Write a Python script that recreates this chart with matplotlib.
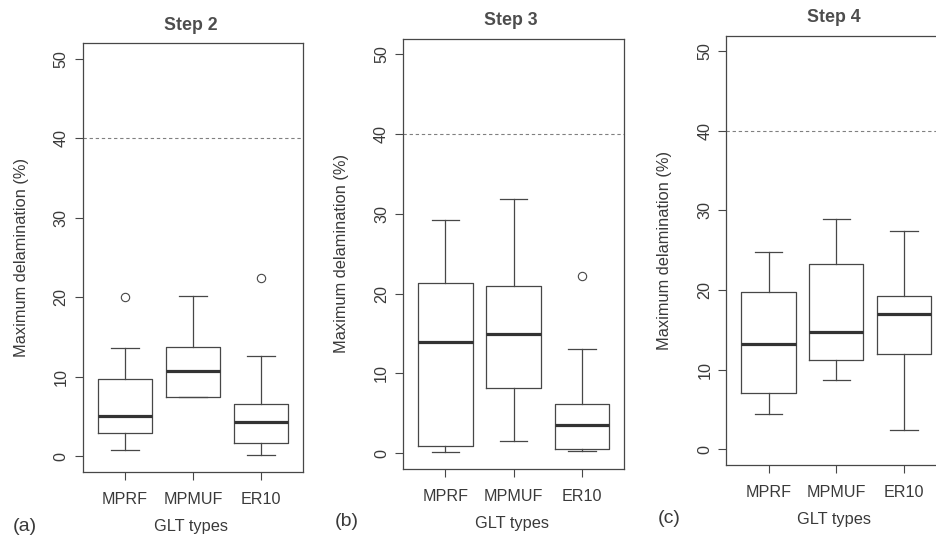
import matplotlib
matplotlib.use('Agg')
import matplotlib.pyplot as plt

# GLT types on the x axis, one box per type
groups = ['MPRF', 'MPMUF', 'ER10']
steps = ['Step 2', 'Step 3', 'Step 4']
panel_tags = ['(a)', '(b)', '(c)']
yticks = [0, 10, 20, 30, 40, 50]
threshold = 40

# box summaries, order MPRF, MPMUF, ER10
step2_low = [0.8, 7.4, 0.2]
step2_q1 = [2.9, 7.4, 1.6]
step2_med = [5.0, 10.7, 4.3]
step2_q3 = [9.7, 13.7, 6.5]
step2_high = [13.6, 20.1, 12.6]
step2_out = [[20.0], [], [22.4]]

step3_low = [0.1, 1.5, 0.2]
step3_q1 = [0.9, 8.2, 0.5]
step3_med = [13.9, 14.9, 3.5]
step3_q3 = [21.3, 21.0, 6.2]
step3_high = [29.2, 31.9, 13.1]
step3_out = [[], [], [22.2]]

step4_low = [4.4, 8.7, 2.4]
step4_q1 = [7.0, 11.2, 11.9]
step4_med = [13.2, 14.7, 17.0]
step4_q3 = [19.8, 23.3, 19.2]
step4_high = [24.8, 28.9, 27.4]
step4_out = [[], [], []]

all_steps = [
    (step2_low, step2_q1, step2_med, step2_q3, step2_high, step2_out),
    (step3_low, step3_q1, step3_med, step3_q3, step3_high, step3_out),
    (step4_low, step4_q1, step4_med, step4_q3, step4_high, step4_out),
]

plt.rcParams['font.family'] = ['Liberation Sans', 'DejaVu Sans']

W, H = 937, 539
fig = plt.figure(figsize=(W / 100, H / 100), dpi=100)
fig.patch.set_facecolor('white')

ink = '#3a3a3a'
line = '#474747'

# frame of each panel in pixels: left, top, width, height
frames = [(82.7, 43.0, 220.5, 429.0),
          (403.0, 38.5, 221.5, 430.5),
          (726.5, 35.5, 219.5, 429.5)]
tag_pos = [(25, 526.5), (347, 521.7), (669, 518.5)]


def fx(x):
    return x / W


def fy(y):
    return 1 - y / H


for i, (l, t, w, h) in enumerate(frames):
    ax = fig.add_axes([fx(l), fy(t + h), w / W, h / H])
    low, q1, med, q3, high, out = all_steps[i]
    stats = []
    for k in range(len(groups)):
        stats.append(dict(label=groups[k], whislo=low[k], q1=q1[k], med=med[k],
                          q3=q3[k], whishi=high[k], fliers=out[k]))

    # dashed limit line at 40 %
    ax.axhline(threshold, color='#808080', lw=0.8, ls=(0, (3, 2.5)), zorder=1)

    ax.bxp(stats, positions=[1, 2, 3], widths=0.8, capwidths=0.4,
           showfliers=True, manage_ticks=False, patch_artist=False,
           boxprops=dict(color=line, lw=0.9),
           whiskerprops=dict(color=line, lw=0.9),
           capprops=dict(color=line, lw=0.9),
           medianprops=dict(color='#333333', lw=2.3, solid_capstyle='butt'),
           flierprops=dict(marker='o', markersize=6, markerfacecolor='none',
                           markeredgecolor=line, markeredgewidth=0.8))

    ax.set_xlim(0.38, 3.62)
    ax.set_ylim(-2, 52)
    ax.set_xticks([1, 2, 3], groups)
    ax.set_yticks(yticks, [str(v) for v in yticks])
    ax.tick_params(axis='both', direction='out', length=6.1, width=0.8,
                   color=line, labelcolor=ink, labelsize=11.6)
    ax.tick_params(axis='x', pad=13.6)
    ax.tick_params(axis='y', pad=9.4)
    plt.setp(ax.get_xticklabels(), va='center')
    plt.setp(ax.get_yticklabels(), rotation=90, ha='center', va='center')
    for s in ax.spines.values():
        s.set_color(line)
        s.set_linewidth(0.9)

    cx = l + w / 2
    fig.text(fx(cx - 2.5), fy(t - 18), steps[i], ha='center', va='center',
             fontsize=12.8, fontweight='bold', color='#4d4d4d')
    fig.text(fx(l - 61.5), fy(t + h / 2), 'Maximum delamination (%)',
             rotation=90, ha='center', va='center', fontsize=11.8, color=ink)
    fig.text(fx(cx - 2), fy(t + h + 54.5), 'GLT types', ha='center',
             va='center', fontsize=11.8, color=ink)
    fig.text(fx(tag_pos[i][0]), fy(tag_pos[i][1]), panel_tags[i], ha='center',
             va='center', fontsize=14, color=ink)

fig.savefig('out.png', dpi=100, facecolor='white')
